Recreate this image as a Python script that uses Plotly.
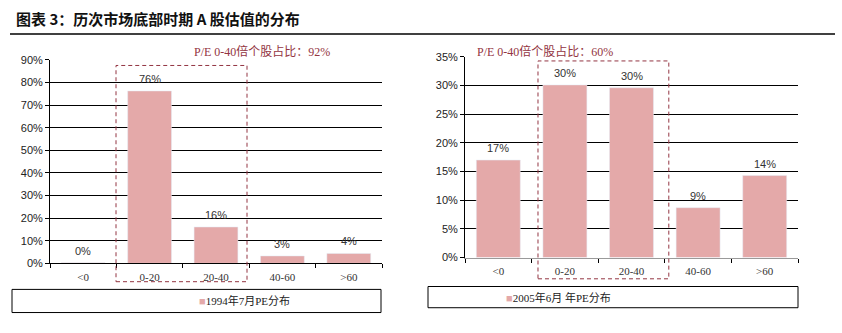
import plotly.graph_objects as go

categories = ["<0", "0-20", "20-40", "40-60", ">60"]
values_1994 = [0.3, 76.3, 16.1, 3.3, 4.4]
values_2005 = [17.0, 30.1, 29.6, 8.7, 14.3]
labels_1994 = ["0%", "76%", "16%", "3%", "4%"]
labels_2005 = ["17%", "30%", "30%", "9%", "14%"]
yticks_1994 = [0, 10, 20, 30, 40, 50, 60, 70, 80, 90]
yticks_2005 = [0, 5, 10, 15, 20, 25, 30, 35]
series_1994 = "1994年7月PE分布"
series_2005 = "2005年6月 年PE分布"
note_1994 = "P/E 0-40倍个股占比：92%"
note_2005 = "P/E 0-40倍个股占比：60%"
title = "图表 3：历次市场底部时期 A 股估值的分布"

W, H = 842, 333
BAR = "#E4A9A9"
DARKRED = "#933542"

def px_x(p):
    return p / W

def px_y(p):
    return 1 - p / H

fig = go.Figure()
fig.add_trace(go.Bar(x=categories, y=values_1994, marker_color=BAR, width=0.66,
                     xaxis="x", yaxis="y", showlegend=False, hoverinfo="skip"))
fig.add_trace(go.Bar(x=categories, y=values_2005, marker_color=BAR, width=0.66,
                     xaxis="x2", yaxis="y2", showlegend=False, hoverinfo="skip"))

tickfont_y = dict(family="Arial, Liberation Sans", size=11, color="#222")
tickfont_x = dict(family="Times New Roman, Liberation Serif", size=11, color="#333")

common_x = dict(type="category", showline=True, linewidth=1, ticks="outside",
                tickson="boundaries", ticklen=4, tickcolor="black",
                tickfont=tickfont_x, showgrid=False, fixedrange=True,
                ticklabelstandoff=3)
common_y = dict(showline=True, linecolor="black", linewidth=1, ticks="outside",
                ticklen=4, tickcolor="black", showgrid=True, gridcolor="black",
                gridwidth=1, tickfont=tickfont_y, zeroline=False, fixedrange=True)

fig.update_layout(
    width=W, height=H,
    margin=dict(l=0, r=0, t=0, b=0),
    paper_bgcolor="white", plot_bgcolor="white",
    xaxis=dict(domain=[px_x(50), px_x(382)], anchor="y", linecolor="black", **common_x),
    yaxis=dict(domain=[px_y(267), px_y(56)], anchor="x", range=[0, 90],
               tickvals=yticks_1994, ticktext=[f"{v}%" for v in yticks_1994], **common_y),
    xaxis2=dict(domain=[px_x(465), px_x(798)], anchor="y2", linecolor="#9a9a9a", **common_x),
    yaxis2=dict(domain=[px_y(261), px_y(52.7)], anchor="x2", range=[0, 35],
                tickvals=yticks_2005, ticktext=[f"{v}%" for v in yticks_2005], **common_y),
)

annotations = []
lblfont = dict(family="Arial, Liberation Sans", size=11, color="#333")
for c, v, t in zip(categories, values_1994, labels_1994):
    annotations.append(dict(x=c, y=v, xref="x", yref="y", text=t, showarrow=False,
                            yshift=12, font=lblfont))
for c, v, t in zip(categories, values_2005, labels_2005):
    annotations.append(dict(x=c, y=v, xref="x2", yref="y2", text=t, showarrow=False,
                            yshift=12, font=lblfont))

serif_cjk = "Liberation Serif, Times New Roman, Noto Sans CJK SC"
annotations.append(dict(x=px_x(14), y=px_y(13), xref="paper", yref="paper", xanchor="left",
                        yanchor="middle", showarrow=False,
                        text="<b>" + title + "</b>",
                        font=dict(family="Noto Sans CJK SC", size=15, color="#111")))
annotations.append(dict(x=px_x(192), y=px_y(47), xref="paper", yref="paper", showarrow=False,
                        yanchor="middle", text=note_1994,
                        font=dict(family=serif_cjk, size=12, color=DARKRED)))
annotations.append(dict(x=px_x(615), y=px_y(47), xref="paper", yref="paper", showarrow=False,
                        yanchor="middle", text=note_2005,
                        font=dict(family=serif_cjk, size=12, color=DARKRED)))
annotations.append(dict(x=px_x(197), y=px_y(306), xref="paper", yref="paper", showarrow=False,
                        yanchor="middle",
                        text="<span style='color:%s'>■</span>%s" % (BAR, series_1994),
                        font=dict(family=serif_cjk, size=11, color="#222")))
annotations.append(dict(x=px_x(613), y=px_y(302), xref="paper", yref="paper", showarrow=False,
                        yanchor="middle",
                        text="<span style='color:%s'>■</span>%s" % (BAR, series_2005),
                        font=dict(family=serif_cjk, size=11, color="#222")))

dash = "4px,3px"
shapes = [
    dict(type="line", xref="paper", yref="paper", x0=px_x(10), x1=px_x(835),
         y0=px_y(29), y1=px_y(29), line=dict(color="black", width=1.5)),
    dict(type="rect", xref="x", yref="paper", x0=0.494, x1=2.467,
         y0=px_y(286), y1=px_y(61.7), line=dict(color=DARKRED, width=1, dash=dash)),
    dict(type="rect", xref="x2", yref="paper", x0=0.596, x1=2.56,
         y0=px_y(283), y1=px_y(57), line=dict(color=DARKRED, width=1, dash=dash)),
    dict(type="rect", xref="paper", yref="paper", x0=px_x(12), x1=px_x(381),
         y0=px_y(318), y1=px_y(294), line=dict(color="black", width=1)),
    dict(type="rect", xref="paper", yref="paper", x0=px_x(428), x1=px_x(798),
         y0=px_y(313), y1=px_y(291), line=dict(color="black", width=1)),
]

fig.update_layout(annotations=annotations, shapes=shapes)
fig.write_html("out.html", post_script="document.body.style.margin='0';")
